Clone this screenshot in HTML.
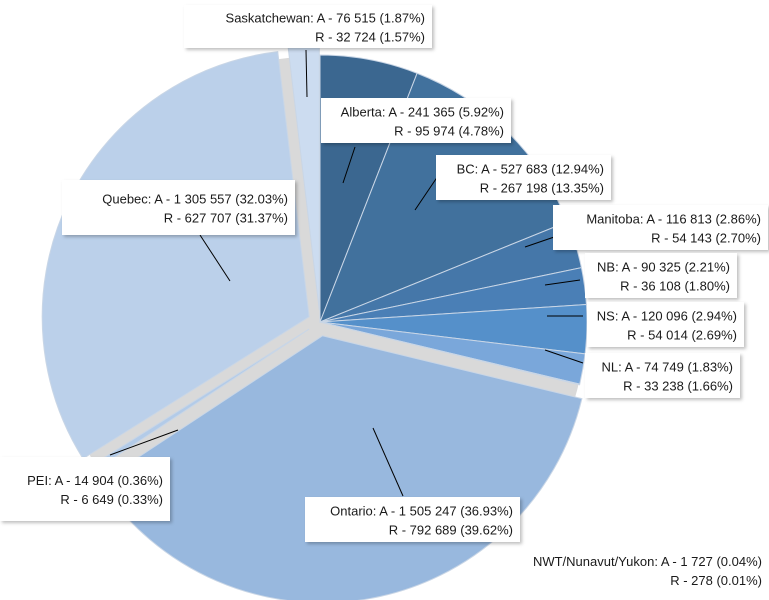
<!DOCTYPE html>
<html><head><meta charset="utf-8">
<style>
body{margin:0;background:#fff;}
svg{display:block;font-family:"Liberation Sans",sans-serif;}
.lbl{font-size:13px;fill:#1a1a1a;font-weight:normal;}
</style></head>
<body>
<svg id="chart" width="769" height="600" viewBox="0 0 769 600">
<defs><filter id="sh" x="-10%" y="-10%" width="130%" height="140%"><feDropShadow dx="2" dy="2" stdDeviation="1.5" flood-color="#000" flood-opacity="0.25"/></filter></defs>
<circle cx="320" cy="322" r="266" fill="#d9d9d9"/>
<g id="slices"></g>
<g id="labels"></g>
</svg>
<script>
const categories=["Alberta","BC","Manitoba","NB","NS","NL","NWT/Nunavut/Yukon","Ontario","PEI","Quebec","Saskatchewan"];
const valuesA=[241365,527683,116813,90325,120096,74749,1727,1505247,14904,1305557,76515];
const pctA=["5.92%","12.94%","2.86%","2.21%","2.94%","1.83%","0.04%","36.93%","0.36%","32.03%","1.87%"];
const valuesR=["95 974","267 198","54 143","36 108","54 014","33 238","278","792 689","6 649","627 707","32 724"];
const pctR=["4.78%","13.35%","2.70%","1.80%","2.69%","1.66%","0.01%","39.62%","0.33%","31.37%","1.57%"];
const labelA=["241 365","527 683","116 813","90 325","120 096","74 749","1 727","1 505 247","14 904","1 305 557","76 515"];
const colors=["#3b6790","#41719d","#4577a9","#4a7fb6","#5590ca","#7aa7da","#a0bde2","#98b8de","#b3cbe8","#bbd0ea","#ccdcf0"];
const explode=[0,0,0,0,0,0,0,14,13,12,12];
const cx=320,cy=322,R=267;
const ns="http://www.w3.org/2000/svg";
const total=valuesA.reduce((a,b)=>a+b,0);
const g=document.getElementById('slices');
let acc=0;
valuesA.forEach((v,i)=>{
  const a0=acc/total*2*Math.PI; acc+=v; const a1=acc/total*2*Math.PI;
  const am=(a0+a1)/2;
  const ox=cx+explode[i]*Math.sin(am), oy=cy-explode[i]*Math.cos(am);
  const x0=ox+R*Math.sin(a0),y0=oy-R*Math.cos(a0),x1=ox+R*Math.sin(a1),y1=oy-R*Math.cos(a1);
  const large=(a1-a0)>Math.PI?1:0;
  const p=document.createElementNS(ns,'path');
  p.setAttribute('d',`M${ox},${oy}L${x0},${y0}A${R},${R} 0 ${large} 1 ${x1},${y1}Z`);
  p.setAttribute('fill',colors[i]);
  p.setAttribute('stroke','#c9d6e6');
  p.setAttribute('stroke-width','1');
  
  
  g.appendChild(p);
});
const boxes=[[321,98,190,45,355,147,343,183],[436,155,175,45,440,173,415,210],[553,205,215,45,560,235,525,247],[585,253,152,45,580,280,545,285],[587,302,157,45,583,316,547,316],[585,353,155,45,583,363,545,350],[503,540,266,60,0,0,0,0],[305,497,215,45,403,496,373,428],[0,457,170,64,110,455,178,430],[62,180,233,55,200,235,230,281],[184,5,248,43,306,50,307,97]];
const L=document.getElementById('labels');
categories.forEach((c,i)=>{
  const b=boxes[i];
  const gg=document.createElementNS(ns,'g');
  
  
  if(b[4]){const l=document.createElementNS(ns,'line');
    l.setAttribute('x1',b[4]);l.setAttribute('y1',b[5]);l.setAttribute('x2',b[6]);l.setAttribute('y2',b[7]);
    l.setAttribute('stroke','#000');l.setAttribute('stroke-width','1');
    
    
    gg.appendChild(l);}
  const r=document.createElementNS(ns,'rect');
  r.setAttribute('x',b[0]);r.setAttribute('y',b[1]);r.setAttribute('width',b[2]);r.setAttribute('height',b[3]);
  r.setAttribute('fill','#fff');if(i!==6)r.setAttribute('filter','url(#sh)');
  
  
  gg.appendChild(r);
  const xr=b[0]+b[2]-7, mid=b[1]+b[3]/2;
  const t1=document.createElementNS(ns,'text');
  t1.setAttribute('x',xr);t1.setAttribute('y',mid-4);t1.setAttribute('text-anchor','end');t1.setAttribute('class','lbl');
  t1.textContent=c+': A - '+labelA[i]+' ('+pctA[i]+')';
  
  
  const t2=document.createElementNS(ns,'text');
  t2.setAttribute('x',xr);t2.setAttribute('y',mid+15);t2.setAttribute('text-anchor','end');t2.setAttribute('class','lbl');
  t2.textContent='R - '+valuesR[i]+' ('+pctR[i]+')';
  
  
  gg.appendChild(t1);gg.appendChild(t2);
  L.appendChild(gg);
});
</script>
</body></html>
